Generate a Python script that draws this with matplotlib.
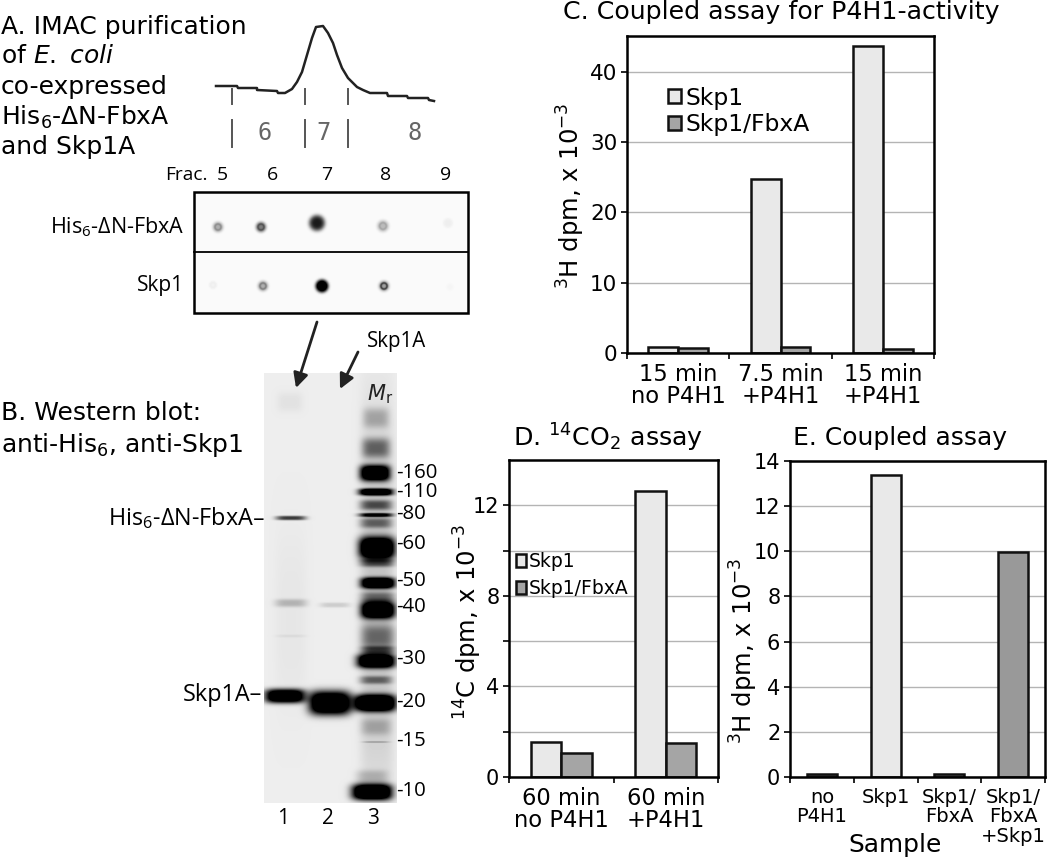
import numpy as np
import matplotlib
matplotlib.use("Agg")
import matplotlib.pyplot as plt
from matplotlib.patches import Rectangle, FancyArrowPatch

plt.rcParams['font.family'] = ['DejaVu Sans']
plt.rcParams['mathtext.default'] = 'regular'

W, H = 1050, 859
LABEL_FONT = 'Open Sans'

# panel C
c_cats = ["15 min\nno P4H1", "7.5 min\n+P4H1", "15 min\n+P4H1"]
c_skp1 = [0.8, 24.8, 43.7]
c_fbxa = [0.7, 0.9, 0.6]
# panel D
d_cats = ["60 min\nno P4H1", "60 min\n+P4H1"]
d_skp1 = [1.55, 12.65]
d_fbxa = [1.05, 1.5]
# panel E
e_cats = ["no\nP4H1", "Skp1", "Skp1/\nFbxA", "Skp1/\nFbxA\n+Skp1"]
e_vals = [0.13, 13.4, 0.15, 9.95]
e_cols = ['#555555', '#e9e9e9', '#777777', '#999999']

# elution trace of panel A
trace_x = [216, 237, 238, 257, 257, 277, 278, 285, 292, 297, 302, 307, 312, 316, 323,
           328, 333, 337, 342, 348, 357, 363, 370, 387, 388, 407, 408, 428, 429, 434]
trace_y = [86, 86, 88, 88, 90, 91, 93, 93, 89, 82, 72, 55, 38, 27, 26,
           33, 43, 55, 68, 78, 87, 90, 93, 93, 96, 96, 98, 98, 100, 101]
frac_marks = [232, 305, 348]

# dot blot
dot_x = [218, 261, 317, 383, 448, 213, 263, 322, 384, 450]
dot_y = [227, 227, 223, 226, 223, 285, 286, 286, 286, 287]
dot_r = [5.5, 5.5, 8, 6, 5, 4.5, 5.5, 6.5, 5.5, 4]
dot_dark = [.3, .5, .9, .25, .05, .03, .3, 1.3, .35, .02]
dot_ring = [.15, .2, 0, .1, 0, .02, .2, 0, .4, 0]

# western blot bands, one list per property
lane1_y = [402, 518, 603, 636, 696, 620]
lane1_h = [10, 2.2, 4, 1.5, 7, 90]
lane1_d = [.05, .75, .22, .05, 1.5, .03]
lane1_x = [290, 291, 291, 291, 285, 291]
lane1_w = [13, 15, 16, 15, 20, 16]
lane2_y = [605, 703]
lane2_h = [2.5, 12]
lane2_d = [.14, 1.6]
lane2_x = [335, 330]
lane2_w = [15, 21]
lane3_y = [418, 448, 473, 492, 505, 515, 523, 548, 563, 583, 597, 610, 637, 650, 661,
           680, 703, 727, 742, 777, 792, 600]
lane3_h = [10, 10, 8, 3.5, 5, 2, 5, 11, 4, 5.5, 5, 8.5, 12, 4, 7, 4, 8.5, 8, 1, 7, 8, 185]
lane3_d = [.25, .5, 1.5, 1.5, .55, 1, .45, 1.6, .5, 1.6, .4, 1.6, .4, .5, 1.6,
           .45, 1.7, .2, .2, .2, 1.7, .18]
lane3_x = [376, 376, 375, 376, 376, 376, 376, 377, 377, 378, 378, 378, 378, 378, 376,
           376, 375, 376, 376, 372, 372, 377]
lane3_w = [13, 14, 15, 17, 16, 17, 16, 18, 17, 17, 17, 17, 17, 17, 19, 16, 21, 15, 13, 16, 20, 17]
mw_labels = ["-160", "-110", "-80", "-60", "-50", "-40", "-30", "-20", "-15", "-10"]
mw_y = [473, 492, 514, 544, 581, 607, 659, 702, 741, 791]
lane_names = ["1", "2", "3"]
lane_x = [283, 328, 373]


def axes_px(fig, left, top, right, bottom):
    return fig.add_axes([left / W, 1 - bottom / H, (right - left) / W, (bottom - top) / H])


def style_chart(ax, ymax, yticks, ylabels, grid_vals, ncat):
    ax.set_xlim(0, ncat)
    ax.set_ylim(0, ymax)
    for s in ax.spines.values():
        s.set_linewidth(1.8)
    ax.set_xticks(range(ncat + 1))
    ax.set_xticklabels([])
    ax.set_yticks(grid_vals)
    ax.set_yticklabels([ylabels[yticks.index(v)] if v in yticks else "" for v in grid_vals])
    ax.tick_params(axis='both', length=4, width=1.2, direction='out', pad=3)
    ax.set_axisbelow(True)
    ax.grid(axis='y', color='#b4b4b4', lw=1.0)


def band(canvas, xx, yy, xc, yc, wx, wy, dark):
    canvas += dark * np.exp(-np.abs((xx - xc) / wx) ** 4 - np.abs((yy - yc) / wy) ** 3)


def make_canvas():
    yy, xx = np.mgrid[0:H, 0:W] + 0.5
    gel = np.zeros((H, W))
    for x, y, w, h, d in zip(lane1_x, lane1_y, lane1_w, lane1_h, lane1_d):
        band(gel, xx, yy, x, y, w, h, d)
    for x, y, w, h, d in zip(lane2_x, lane2_y, lane2_w, lane2_h, lane2_d):
        band(gel, xx, yy, x, y, w, h, d)
    for x, y, w, h, d in zip(lane3_x, lane3_y, lane3_w, lane3_h, lane3_d):
        band(gel, xx, yy, x, y, w, h, d)
    mask = np.zeros((H, W))
    mask[373:803, 264:397] = 1
    dark = gel * mask
    for x, y, r, d, ring in zip(dot_x, dot_y, dot_r, dot_dark, dot_ring):
        rr = np.hypot(xx - x, yy - y)
        dark += d * np.exp(-(rr / r) ** 4) + ring * np.exp(-((rr - r * .55) / 1.2) ** 2)
    paper = np.ones((H, W))
    paper[373:803, 264:397] = 0.93
    paper[192:313, 194:468] = 0.98
    return paper * (1 - np.clip(dark, 0, 1))


fig = plt.figure(figsize=(W / 100, H / 100), dpi=100)

base = fig.add_axes([0, 0, 1, 1])
base.imshow(make_canvas(), cmap='gray', vmin=0, vmax=1, extent=(0, W, H, 0),
            interpolation='bilinear', aspect='auto')
base.set_xlim(0, W)
base.set_ylim(H, 0)
base.axis('off')

# panel A
a_lines = ["A. IMAC purification", "of $\\mathit{E.\\ coli}$", "co-expressed",
           "His$_6$-\u0394N-FbxA", "and Skp1A"]
for txt, y in zip(a_lines, [27, 56, 87, 117, 147]):
    base.text(1, y, txt, fontsize=18, va='center', ha='left')
base.plot(trace_x, trace_y, color='#222222', lw=1.8)
for x in frac_marks:
    base.plot([x, x], [89, 104], color='#555555', lw=1.4)
    base.plot([x, x], [120, 147], color='#555555', lw=1.4)
for x, t in zip([265, 323, 415], ["6", "7", "8"]):
    base.text(x, 133, t, fontsize=17, family='DejaVu Sans Mono', color='#666666',
              ha='center', va='center')
base.text(165, 175, "Frac.", fontsize=13.8, family=LABEL_FONT, va='center')
for x, t in zip([222, 272, 327, 386, 446], ["5", "6", "7", "8", "9"]):
    base.text(x, 175, t, fontsize=14, family=LABEL_FONT, ha='center', va='center')
base.add_patch(Rectangle((194, 192), 274, 121, fill=False, ec='black', lw=1.8))
base.plot([194, 468], [252, 252], color='black', lw=1.3)
base.text(184, 227, "His$_6$-\u0394N-FbxA", fontsize=15.5, family=LABEL_FONT, ha='right', va='center')
base.text(184, 286, "Skp1", fontsize=15, family=LABEL_FONT, ha='right', va='center')

# panel B
base.text(1, 413, "B. Western blot:", fontsize=18, va='center')
base.text(1, 445, "anti-His$_6$, anti-Skp1", fontsize=18, va='center')
base.text(367, 342, "Skp1A", fontsize=14.8, family=LABEL_FONT, va='center')
for p0, p1 in [((317, 322), (296, 388)), ((358, 352), (340, 389))]:
    base.add_patch(FancyArrowPatch(p0, p1, arrowstyle='-|>', mutation_scale=22,
                                   color='#222222', lw=2, shrinkA=0, shrinkB=0))
base.text(380, 394, "$\\mathit{M}_{r}$", fontsize=15, ha='center', va='center', color='#222222')
base.text(265, 518, "His$_6$-\u0394N-FbxA\u2013", fontsize=16.8, family=LABEL_FONT, ha='right', va='center')
base.text(262, 695, "Skp1A\u2013", fontsize=16.8, family=LABEL_FONT, ha='right', va='center')
for t, y in zip(mw_labels, mw_y):
    base.text(396, y, t, fontsize=14.7, family=LABEL_FONT, va='center')
for t, x in zip(lane_names, lane_x):
    base.text(x, 819, t, fontsize=15, family=LABEL_FONT, ha='center', va='center')

# panel C
base.text(563, 12, "C. Coupled assay for P4H1-activity", fontsize=18.2, va='center')
ax = axes_px(fig, 627, 36, 934, 353)
style_chart(ax, 45.1, [0, 10, 20, 30, 40], ["0", "10", "20", "30", "40"], [0, 10, 20, 30, 40], 3)
pos = np.arange(3) + 0.5
ax.bar(pos - 0.145, c_skp1, 0.29, color='#e9e9e9', ec='#111111', lw=1.8, label="Skp1")
ax.bar(pos + 0.145, c_fbxa, 0.29, color='#a5a5a5', ec='#111111', lw=1.8, label="Skp1/FbxA")
ax.tick_params(axis='y', labelsize=15.5)
ax.set_ylabel("$^{3}$H dpm, x 10$^{-3}$", fontsize=17.5)
ax.yaxis.set_label_coords((587 - 627) / 307, 0.495)
ax.legend(loc='upper left', bbox_to_anchor=(0.134, 0.84), frameon=False, fontsize=16.9,
          handlelength=0.55, handleheight=0.55, handletextpad=0.17, labelspacing=0.15,
          borderpad=0, borderaxespad=0)
for x, t in zip(pos, c_cats):
    ax.text(x, -0.03, t, transform=ax.get_xaxis_transform(), fontsize=16.3,
            ha='center', va='top', linespacing=0.95)

# panel D
base.text(513, 438, "D. $^{14}$CO$_2$ assay", fontsize=18.2, va='center')
ax = axes_px(fig, 509, 460, 718, 777)
style_chart(ax, 14, [0, 4, 8, 12], ["0", "4", "8", "12"], [0, 2, 4, 6, 8, 10, 12], 2)
pos = np.arange(2) + 0.5
ax.bar(pos - 0.145, d_skp1, 0.29, color='#e9e9e9', ec='#111111', lw=1.8, label="Skp1")
ax.bar(pos + 0.145, d_fbxa, 0.29, color='#a5a5a5', ec='#111111', lw=1.8, label="Skp1/FbxA")
ax.tick_params(axis='y', labelsize=15)
ax.set_ylabel("$^{14}$C dpm, x 10$^{-3}$", fontsize=17.5)
ax.yaxis.set_label_coords((484 - 509) / 209, 0.49)
ax.legend(loc='upper left', bbox_to_anchor=(0.033, 0.71), frameon=False, fontsize=13.5,
          handlelength=0.53, handleheight=0.7, handletextpad=0.17, labelspacing=0.43,
          borderpad=0, borderaxespad=0)
for x, t in zip(pos, d_cats):
    ax.text(x, -0.03, t, transform=ax.get_xaxis_transform(), fontsize=16.3,
            ha='center', va='top', linespacing=0.95)

# panel E
base.text(793, 438, "E. Coupled assay", fontsize=18, va='center')
ax = axes_px(fig, 790, 461, 1045, 777)
style_chart(ax, 14, [0, 2, 4, 6, 8, 10, 12, 14], ["0", "2", "4", "6", "8", "10", "12", "14"],
            [0, 2, 4, 6, 8, 10, 12, 14], 4)
pos = np.arange(4) + 0.5
ax.bar(pos, e_vals, 0.47, color=e_cols, ec='#111111', lw=1.8)
ax.tick_params(axis='y', labelsize=15)
ax.set_ylabel("$^{3}$H dpm, x 10$^{-3}$", fontsize=17.5)
ax.yaxis.set_label_coords((760 - 790) / 255, 0.40)
for x, t in zip(pos, e_cats):
    ax.text(x, -0.035, t, transform=ax.get_xaxis_transform(), fontsize=14,
            ha='center', va='top', linespacing=1.02)
base.text(895, 845, "Sample", fontsize=17.9, ha='center', va='center')

fig.savefig("out.png", dpi=100)
